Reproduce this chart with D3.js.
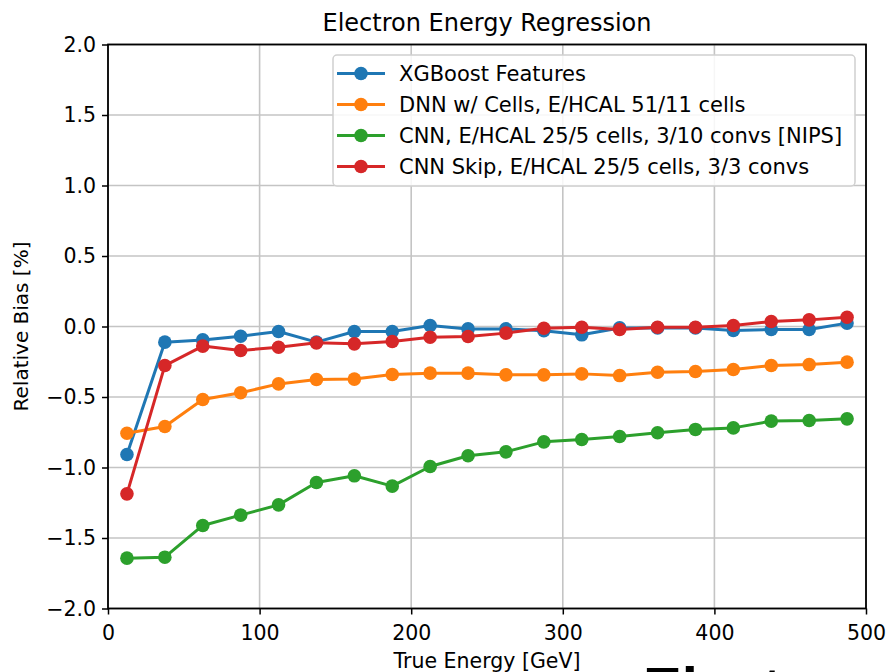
<!DOCTYPE html>
<html>
<head>
<meta charset="utf-8">
<script src="https://cdn.jsdelivr.net/npm/d3@7"></script>
<style>
  html, body { margin: 0; padding: 0; background: #fff; overflow: hidden; }
  svg { display: block; }
  text { font-family: "DejaVu Sans", sans-serif; }
</style>
</head>
<body>
<svg id="chart" width="889" height="672"></svg>
<script>
// ---- data ----
const energies = [12.5, 37.5, 62.5, 87.5, 112.5, 137.5, 162.5, 187.5, 212.5, 237.5,
                  262.5, 287.5, 312.5, 337.5, 362.5, 387.5, 412.5, 437.5, 462.5, 487.5];
const seriesNames = [
  "XGBoost Features",
  "DNN w/ Cells, E/HCAL 51/11 cells",
  "CNN, E/HCAL 25/5 cells, 3/10 convs [NIPS]",
  "CNN Skip, E/HCAL 25/5 cells, 3/3 convs"
];
const xgboost = [-0.908, -0.111, -0.095, -0.069, -0.035, -0.111, -0.035, -0.035, 0.007, -0.017,
                 -0.017, -0.030, -0.059, -0.010, -0.010, -0.010, -0.028, -0.021, -0.021, 0.024];
const dnn     = [-0.757, -0.709, -0.518, -0.470, -0.407, -0.376, -0.373, -0.340, -0.331, -0.331,
                 -0.343, -0.343, -0.336, -0.348, -0.324, -0.319, -0.305, -0.277, -0.270, -0.253];
const cnn     = [-1.643, -1.636, -1.411, -1.338, -1.265, -1.106, -1.059, -1.132, -0.993, -0.917,
                 -0.889, -0.818, -0.801, -0.780, -0.754, -0.730, -0.719, -0.671, -0.667, -0.655];
const cnnSkip = [-1.187, -0.277, -0.139, -0.170, -0.147, -0.116, -0.123, -0.106, -0.076, -0.071,
                 -0.047, -0.012, -0.005, -0.021, -0.005, -0.005, 0.007, 0.035, 0.047, 0.066];
const colors = ["#1f77b4", "#ff7f0e", "#2ca02c", "#d62728"];
const xTicks = [0, 100, 200, 300, 400, 500];
const yTicks = [-2.0, -1.5, -1.0, -0.5, 0.0, 0.5, 1.0, 1.5, 2.0];
const titleText = "Electron Energy Regression";
const xLabel = "True Energy [GeV]";
const yLabel = "Relative Bias [%]";
const footerText = "Electron";

// ---- layout ----
const svg = d3.select("#chart");
const L = 108, R = 866, T = 44.5, B = 608.5;
const x = d3.scaleLinear().domain([0, 500]).range([L, R]);
const y = d3.scaleLinear().domain([-2, 2]).range([B, T]);

// grid
const grid = svg.append("g");
grid.selectAll("line.gx").data(xTicks).join("line")
  .attr("x1", d => x(d)).attr("x2", d => x(d)).attr("y1", T).attr("y2", B)
  .attr("stroke", "#c4c4c4").attr("stroke-width", 1.6);
grid.selectAll("line.gy").data(yTicks).join("line")
  .attr("x1", L).attr("x2", R).attr("y1", d => y(d)).attr("y2", d => y(d))
  .attr("stroke", "#c4c4c4").attr("stroke-width", 1.6);

// series
const allSeries = [xgboost, dnn, cnn, cnnSkip];
const line = d3.line().x((d, i) => x(energies[i])).y(d => y(d));
allSeries.forEach((vals, k) => {
  const g = svg.append("g");
  g.append("path").datum(vals).attr("d", line)
    .attr("fill", "none").attr("stroke", colors[k]).attr("stroke-width", 3)
    .attr("stroke-linejoin", "round");
  g.selectAll("circle").data(vals).join("circle")
    .attr("cx", (d, i) => x(energies[i])).attr("cy", d => y(d)).attr("r", 6.8)
    .attr("fill", colors[k]);
});

// axes
const fmt = d3.format(".1f");
const xAxis = svg.append("g").attr("transform", `translate(0,${B})`)
  .call(d3.axisBottom(x).tickValues(xTicks).tickSize(6).tickPadding(6).tickFormat(d3.format("d")));
const yAxis = svg.append("g").attr("transform", `translate(${L},0)`)
  .call(d3.axisLeft(y).tickValues(yTicks).tickSize(6).tickPadding(6).tickFormat(fmt));
[xAxis, yAxis].forEach(a => {
  a.select(".domain").remove();
  a.selectAll(".tick line").attr("stroke", "#000").attr("stroke-width", 1.5);
  a.selectAll(".tick text").attr("fill", "#000").style("font-size", "20.5px")
    .style("font-family", "'DejaVu Sans', sans-serif");
});
xAxis.selectAll(".tick text").attr("dy", "0.95em");
// frame
svg.append("rect").attr("x", L).attr("y", T).attr("width", R - L).attr("height", B - T)
  .attr("fill", "none").attr("stroke", "#000").attr("stroke-width", 1.8);

// title and labels
svg.append("text").attr("x", 487).attr("y", 31).attr("text-anchor", "middle")
  .style("font-size", "24px").attr("fill", "#000").text(titleText);
svg.append("text").attr("x", 487).attr("y", 668).attr("text-anchor", "middle")
  .style("font-size", "20.5px").attr("fill", "#000").text(xLabel);
svg.append("text").attr("transform", `translate(28,${(T + B) / 2}) rotate(-90)`)
  .attr("text-anchor", "middle").style("font-size", "20px").attr("fill", "#000").text(yLabel);

// legend
const lg = svg.append("g");
lg.append("rect").attr("x", 333).attr("y", 55).attr("width", 522).attr("height", 131)
  .attr("rx", 4).attr("fill", "#fff").attr("fill-opacity", 0.85)
  .attr("stroke", "#d0d0d0").attr("stroke-width", 1.5);
seriesNames.forEach((name, k) => {
  const cy = 73.5 + k * 31;
  lg.append("line").attr("x1", 337).attr("x2", 385).attr("y1", cy).attr("y2", cy)
    .attr("stroke", colors[k]).attr("stroke-width", 3);
  lg.append("circle").attr("cx", 361).attr("cy", cy).attr("r", 6.8).attr("fill", colors[k]);
  lg.append("text").attr("x", 399).attr("y", cy + 7.5).style("font-size", "21px")
    .attr("fill", "#000").text(name);
});

// partially visible footer text (cut off by the bottom edge, as in the reference)
svg.append("text").attr("x", 643).attr("y", 708)
  .style("font-family", "'Liberation Sans', Arial, sans-serif").style("font-weight", "bold")
  .style("font-size", "58px").attr("fill", "#000").text(footerText);
</script>
</body>
</html>
